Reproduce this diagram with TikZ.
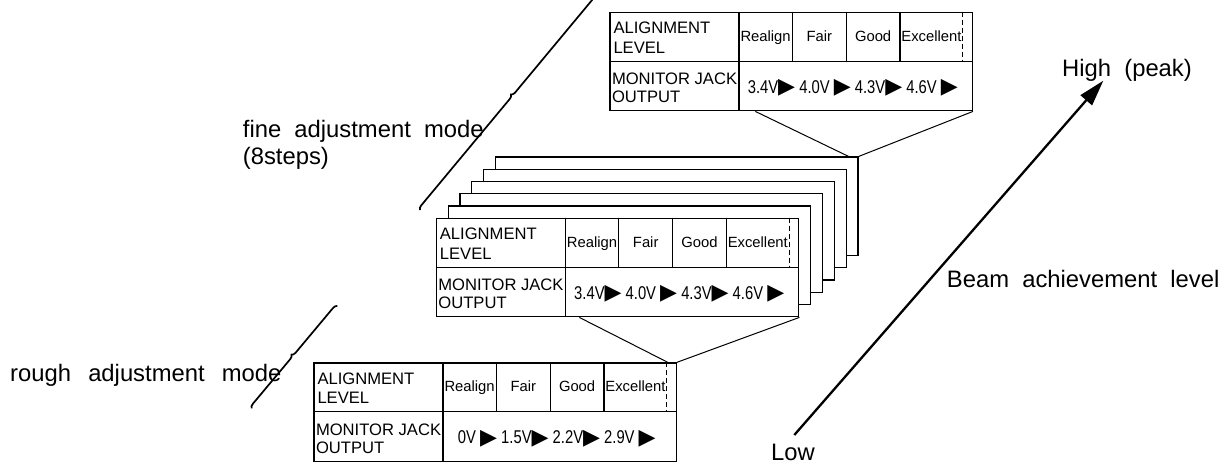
\documentclass[tikz,border=0pt]{standalone}
\usepackage{fontspec}
\setmainfont{Liberation Sans}
\newfontfamily\bigfont[WordSpace=2]{Liberation Sans}
\newfontfamily\voltfont[FakeStretch=0.8]{Liberation Sans}
\newfontfamily\trifont{DejaVu Sans}
\usetikzlibrary{calc,arrows.meta,decorations.pathreplacing}

\newcommand\trg{{\trifont\fontsize{22pt}{22pt}\selectfont\raisebox{-0.5pt}{▶}}}

\tikzset{
  tblbox/.style={draw, fill=white, line width=1.2pt, minimum width=362.5pt, minimum height=98.5pt, inner sep=0pt, anchor=north west},
  cardbox/.style={tblbox},
  lbl/.style={inner sep=0pt, anchor=base west, font=\fontsize{16.6pt}{16.6pt}\selectfont},
  hdr/.style={inner sep=0pt, anchor=base, font=\fontsize{14.8pt}{14.8pt}\selectfont},
  volt/.style={inner sep=0pt, anchor=base, font=\voltfont\fontsize{18.5pt}{18.5pt}\selectfont},
  big/.style={inner sep=0pt, anchor=base west, font=\bigfont\fontsize{23.8pt}{27pt}\selectfont},
  tline/.style={line width=1.2pt},
  zoomline/.style={line width=1pt},
  dashline/.style={line width=1pt, dash pattern=on 5pt off 3pt},
  bracel/.style={decorate, decoration={brace, amplitude=4pt}, line width=1.7pt},
  arrowl/.style={line width=2.3pt, -{Triangle[length=26pt,width=15pt]}},
}

\newcommand\levtable[3]{%
  \node[tblbox] (#1) at (#2) {};
  \draw[tline] ($(#1.north west)+(0,49.5)$) -- ($(#1.north east)+(0,49.5)$);
  \draw[tline] ($(#1.north west)+(129.7,0)$) -- ($(#1.south west)+(129.7,0)$);
  \foreach \cx in {183,237,290.7} \draw[tline] ($(#1.north west)+(\cx,0)$) -- ($(#1.north west)+(\cx,49.5)$);
  \draw[dashline] ($(#1.north west)+(353.5,0)$) -- ($(#1.north west)+(353.5,49.5)$);
  \node[lbl] (#1-a1) at ($(#1.north west)+(4,22)$) {ALIGNMENT};
  \node[lbl] (#1-a2) at ($(#1.north west)+(4,41.5)$) {LEVEL};
  \node[lbl] (#1-m1) at ($(#1.north west)+(2.5,73)$) {MONITOR JACK};
  \node[lbl] (#1-m2) at ($(#1.north west)+(2.5,91)$) {OUTPUT};
  \node[hdr] (#1-h1) at ($(#1.north west)+(156.3,29.5)$) {Realign};
  \node[hdr] (#1-h2) at ($(#1.north west)+(210,29.5)$) {Fair};
  \node[hdr] (#1-h3) at ($(#1.north west)+(263.8,29.5)$) {Good};
  \node[hdr] (#1-h4) at ($(#1.north west)+(322.1,29.5)$) {Excellent};
  \node[volt] (#1-v) at ($(#1.north west)+(243.5,81.5)$) {#3};
}

\begin{document}
\begin{tikzpicture}[x=1pt,y=-1pt]
\useasboundingbox (0,0) rectangle (1229,464);
\clip (0,0) rectangle (1229,464);

% stacked cards (back to front)
\node[cardbox] (card1) at (494.95,156.45) {};
\node[cardbox] (card2) at (483.1,168.7) {};
\node[cardbox] (card3) at (471.25,180.95) {};
\node[cardbox] (card4) at (459.4,193.2) {};
\node[cardbox] (card5) at (447.55,205.45) {};

% tables
\levtable{midt}{435.7,217.7}{3.4V\trg\ 4.0V \trg\ 4.3V\trg\ 4.6V \trg}
\levtable{topt}{609.3,11.7}{3.4V\trg\ 4.0V \trg\ 4.3V\trg\ 4.6V \trg}
\levtable{bott}{313.3,362.3}{0V \trg\ 1.5V\trg\ 2.2V\trg\ 2.9V \trg}

% zoom connectors
\draw[zoomline] ($(topt.south west)+(146,0)$) -- ($(card1.north east)+(-10,0)$);
\draw[zoomline] (topt.south east) -- (card1.north east);
\draw[zoomline] ($(midt.south west)+(143.6,0)$) -- ($(bott.north east)+(-9.3,0)$);
\draw[zoomline] (midt.south east) -- (bott.north east);

% labels
\node[big] (fine) at (242.7,137.3) {fine adjustment mode};
\node[big] (steps) at (242.7,164.3) {(8steps)};
\node[big] (rough) at (10,381) {rough\hspace{4pt} adjustment\hspace{4pt} mode};
\node[big] (high) at (1062,76.7) {High (peak)};
\node[big] (beam) at (946.7,287.3) {Beam achievement level};
\node[big] (low) at (771,460.3) {Low};

% arrow
\coordinate (aLow) at (794.3,435);
\coordinate (aHigh) at (1103.3,80.7);
\draw[arrowl] (aLow) -- (aHigh);

% braces
\coordinate (fb1) at (420,210);
\coordinate (fb2) at (608,-16);
\draw[bracel] (fb1) -- (fb2);
\coordinate (rb1) at (251.7,408.3);
\coordinate (rb2) at (337.3,306);
\draw[bracel] (rb1) -- (rb2);
\end{tikzpicture}
\end{document}
